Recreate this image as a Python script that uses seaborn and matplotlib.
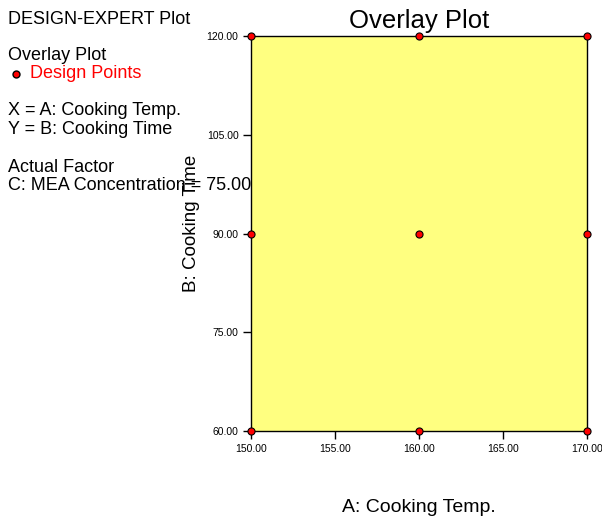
import matplotlib
matplotlib.use("Agg")
import matplotlib.pyplot as plt
import seaborn as sns
import pandas as pd

sns.set_theme(style="white")
plt.rcParams['font.family'] = ['Liberation Sans', 'DejaVu Sans']
plt.rcParams['text.color'] = 'black'
plt.rcParams['axes.labelcolor'] = 'black'
plt.rcParams['xtick.color'] = 'black'
plt.rcParams['ytick.color'] = 'black'

cooking_temp = [150, 160, 170, 150, 160, 170, 150, 160, 170]
cooking_time = [60, 60, 60, 90, 90, 90, 120, 120, 120]
x_ticks = [150, 155, 160, 165, 170]
y_ticks = [60, 75, 90, 105, 120]

df = pd.DataFrame({"A: Cooking Temp.": cooking_temp, "B: Cooking Time": cooking_time})

fig = plt.figure(figsize=(6.02, 5.16), dpi=100)
ax = fig.add_axes([251/602, 1 - 431/516, (587-251)/602, (431-36)/516])
ax.set_facecolor("#FFFF80")

sns.scatterplot(data=df, x="A: Cooking Temp.", y="B: Cooking Time", ax=ax,
                color="#FF0000", edgecolor="#000000", linewidth=0.8, s=26,
                clip_on=False, zorder=5, legend=False)

ax.set_xlim(150, 170)
ax.set_ylim(60, 120)
ax.set_xticks(x_ticks)
ax.set_yticks(y_ticks)
ax.set_xticklabels([f"{v:.2f}" for v in x_ticks], fontsize=7.5)
ax.set_yticklabels([f"{v:.2f}" for v in y_ticks], fontsize=7.5)
ax.tick_params(axis='both', direction='out', length=6, width=1, color='black',
               bottom=True, left=True, pad=3)
for s in ax.spines.values():
    s.set_color("black")
    s.set_linewidth(1)

ax.set_xlabel("A: Cooking Temp.", fontsize=14, labelpad=0)
ax.xaxis.set_label_coords(0.5, -(507 - 431) / (431 - 36), transform=ax.transAxes)
ax.xaxis.label.set_va('center')
ax.set_ylabel("B: Cooking Time", fontsize=13.5)
ax.yaxis.set_label_coords(-(251 - 191) / (587 - 251), (431 - 223) / (431 - 36), transform=ax.transAxes)
ax.yaxis.label.set_va('center')
ax.set_title("Overlay Plot", fontsize=18.5, pad=6)

fs = 13
fig.text(8/602, 1 - 19/516, "DESIGN-EXPERT Plot", fontsize=fs, va='center', ha='left')
fig.text(8/602, 1 - 55/516, "Overlay Plot", fontsize=fs, va='center', ha='left')
fig.text(30/602, 1 - 74/516, "Design Points", fontsize=fs, va='center', ha='left', color="#FF0000")
fig.lines.append(plt.Line2D([16/602], [1 - 74/516], marker='o', color='#FF0000',
                            markeredgecolor='black', markersize=5, transform=fig.transFigure))
fig.text(8/602, 1 - 111/516, "X = A: Cooking Temp.", fontsize=fs, va='center', ha='left')
fig.text(8/602, 1 - 130/516, "Y = B: Cooking Time", fontsize=fs, va='center', ha='left')
fig.text(8/602, 1 - 167/516, "Actual Factor", fontsize=fs, va='center', ha='left')
fig.text(8/602, 1 - 186/516, "C: MEA Concentration = 75.00", fontsize=fs, va='center', ha='left')

fig.savefig("out.png", dpi=100)
